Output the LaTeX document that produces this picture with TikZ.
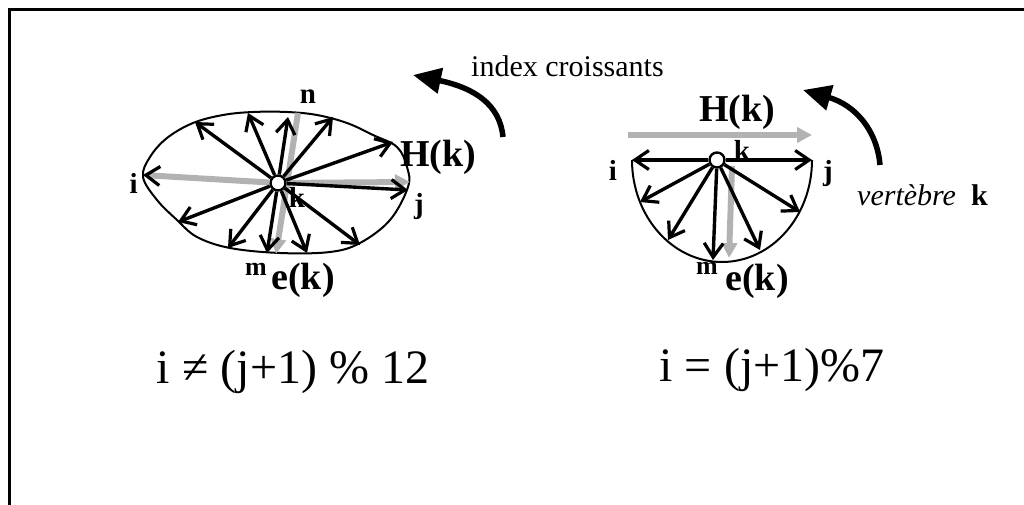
\documentclass[tikz,border=0pt]{standalone}
\usepackage{fontspec}
\setmainfont{Liberation Serif}
\usetikzlibrary{arrows.meta}
\begin{document}
\begin{tikzpicture}[x=1pt,y=-1pt,
  vec/.style={line width=3.4pt,-{Straight Barb[length=14pt,width=19pt,line width=3.2pt]}},
  shadeline/.style={line width=6pt,gray!60,-{Triangle[length=15pt,width=15pt]}},
  hub/.style={circle,draw,fill=white,line width=2.4pt,minimum size=15pt,inner sep=0pt},
  lbl/.style={font=\fontsize{29}{31}\selectfont\bfseries,inner sep=0pt},
  big/.style={font=\fontsize{38}{40}\selectfont\bfseries,inner sep=0pt},
  formula/.style={font=\fontsize{48}{52}\selectfont,inner sep=0pt},
  turnarrow/.style={line width=5.5pt,-{Triangle[length=28pt,width=25pt]}}
]
\useasboundingbox (0,0) rectangle (1024,505);
\draw[line width=2.2pt] (1024,9.5) -- (9.5,9.5) -- (9.5,505);

% ---------- left diagram ----------
\draw[line width=2pt] plot[smooth cycle,tension=0.6] coordinates {
 (143,177) (150,157) (167,138) (193,123) (223,115) (253,112) (287,112)
 (317,115) (347,123) (373,135) (397,147) (407,167) (408,187) (390,220)
 (360,243) (330,252) (280,253) (230,248) (197,237) (177,220) (157,200)};
\coordinate (nL) at (298,113);
\coordinate (eL) at (276,254);
\draw[shadeline] (nL) -- (eL);
\node[hub] (c1) at (278,183) {};
\coordinate (iL) at (143,175);
\coordinate (jL) at (408,190);
\coordinate (jLs) at (410,182);
\coordinate (hL) at (393,142);
\coordinate (pL1) at (195,122);
\coordinate (pL2) at (248,113);
\coordinate (pL3) at (288,117);
\coordinate (pL4) at (333,117);
\coordinate (pL5) at (178,222);
\coordinate (pL6) at (228,248);
\coordinate (pL7) at (267,253);
\coordinate (pL8) at (307,253);
\coordinate (pL9) at (360,245);
\draw[line width=6pt,gray!60,-{Straight Barb[black,length=14pt,width=19pt,line width=3.2pt]}] (c1) -- (iL);
\draw[shadeline] (c1) -- (jLs);
\draw[vec] (c1) -- (pL1);
\draw[vec] (c1) -- (pL2);
\draw[vec] (c1) -- (pL3);
\draw[vec] (c1) -- (pL4);
\draw[vec] (c1) -- (pL5);
\draw[vec] (c1) -- (pL6);
\draw[vec] (c1) -- (pL7);
\draw[vec] (c1) -- (pL8);
\draw[vec] (c1) -- (pL9);
\draw[vec] (c1) -- (hL);
\draw[vec] (c1) -- (jL);

\node[lbl] (n) at (308,97) {n};
\node[lbl,anchor=east] (iLl) at (138,183) {i};
\node[lbl,anchor=west] (jLl) at (414,207) {j};
\node[lbl] (kL) at (297,197) {k};
\node[lbl,font=\fontsize{26}{28}\selectfont\bfseries] (mL) at (256,269) {m};
\node[big] (eLl) at (303,280) {e(k)};
\node[big,anchor=west] (HL) at (400,157) {H(k)};

% ---------- right diagram ----------
\draw[line width=2pt] (632,160) arc[start angle=180,end angle=360,x radius=90pt,y radius=102pt];
\coordinate (hA) at (628,135);
\coordinate (hB) at (812,135);
\draw[shadeline] (hA) -- (hB);
\coordinate (eRa) at (732,166);
\coordinate (eRb) at (729,258);
\draw[shadeline] (eRa) -- (eRb);
\node[hub] (c2) at (717,160) {};
\coordinate (pR1) at (632,160);
\coordinate (pR2) at (812,160);
\coordinate (pR3) at (640,202);
\coordinate (pR4) at (668,240);
\coordinate (pR5) at (713,260);
\coordinate (pR6) at (760,250);
\coordinate (pR7) at (800,212);
\draw[vec] (c2) -- (pR1);
\draw[vec] (c2) -- (pR2);
\draw[vec] (c2) -- (pR3);
\draw[vec] (c2) -- (pR4);
\draw[vec] (c2) -- (pR5);
\draw[vec] (c2) -- (pR6);
\draw[vec] (c2) -- (pR7);

\node[big] (HR) at (737,112) {H(k)};
\node[lbl] (kR) at (742,150) {k};
\node[lbl] (iR) at (613,170) {i};
\node[lbl] (jR) at (828,174) {j};
\node[lbl,font=\fontsize{26}{28}\selectfont\bfseries] (mR) at (707,268) {m};
\node[big] (eR) at (757,281) {e(k)};

% ---------- curved arrows and captions ----------
\coordinate (b1s) at (503,137);
\coordinate (b1e) at (413,75);
\draw[turnarrow] (b1s) .. controls (500,105) and (475,88) .. (b1e);
\coordinate (b2s) at (880,165);
\coordinate (b2e) at (803,90);
\draw[turnarrow] (b2s) .. controls (877,130) and (855,105) .. (b2e);

\node[anchor=west,inner sep=0pt,font=\fontsize{30}{32}\selectfont] (idx) at (471,66) {index croissants};
\node[anchor=west,inner sep=0pt,font=\fontsize{30}{32}\selectfont] (vk) at (857,195) {\textit{vertèbre}\ \ \textbf{k}};

\node[formula] (fL) at (293,372) {i ≠ (j+1) \% 12};
\node[formula] (fR) at (772,370) {i = (j+1)\%7};
\end{tikzpicture}
\end{document}
